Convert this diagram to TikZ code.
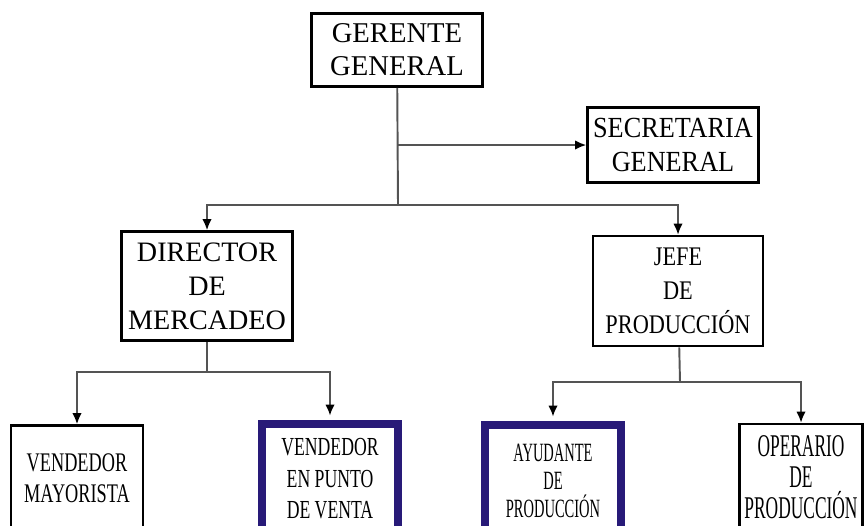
\documentclass[tikz,border=0pt]{standalone}
\usepackage{fontspec}
\setmainfont{Liberation Serif}
\newfontfamily\letraA[FakeStretch=0.9]{Liberation Serif}
\newfontfamily\letraB[FakeStretch=0.83]{Liberation Serif}
\newfontfamily\letraC[FakeStretch=0.68]{Liberation Serif}
\newfontfamily\letraD[FakeStretch=0.55]{Liberation Serif}
\usetikzlibrary{arrows.meta}

\definecolor{azulborde}{RGB}{40,26,120}
\definecolor{linea}{gray}{0.33}

\tikzset{
	cargo/.style={draw, line width=1.5pt, align=center, inner sep=0pt},
	resaltado/.style={cargo, draw=azulborde, line width=4.8pt},
	enlace/.style={draw=linea, line width=1.1pt},
	flecha/.style={enlace, -{Latex[length=2.2mm,width=1.9mm,color=black]}}
}

\begin{document}
\begin{tikzpicture}[x=0.02cm, y=-0.02cm]

	\useasboundingbox (0,0) rectangle (865,525);

	% primer nivel
	\node[cargo, minimum width=3.42cm, minimum height=1.46cm,
		font=\fontsize{16.3pt}{18.7pt}\selectfont] (gerente) at (397,50) {GERENTE\\GENERAL};
	\node[cargo, minimum width=3.42cm, minimum height=1.5cm,
		font=\letraA\fontsize{16.6pt}{19.3pt}\selectfont] (secretaria) at (673,145) {SECRETARIA\\GENERAL};

	% segundo nivel
	\node[cargo, minimum width=3.42cm, minimum height=2.18cm,
		font=\fontsize{16pt}{19.3pt}\selectfont] (director) at (207,286) {DIRECTOR\\DE\\MERCADEO};
	\node[cargo, minimum width=3.4cm, minimum height=2.2cm,
		font=\letraB\fontsize{15.3pt}{19.3pt}\selectfont] (jefe) at (678,291) {JEFE\\DE\\PRODUCCIÓN};

	% tercer nivel (se sale por abajo)
	\node[cargo, minimum width=2.64cm, minimum height=2.1cm,
		font=\letraC\fontsize{15.3pt}{17.6pt}\selectfont] (mayorista) at (77,478) {VENDEDOR\\MAYORISTA};
	\node[resaltado, minimum width=2.72cm, minimum height=2.2cm,
		font=\letraC\fontsize{14.8pt}{17.9pt}\selectfont] (puntoventa) at (330,479) {VENDEDOR\\EN PUNTO\\DE VENTA};
	\node[resaltado, minimum width=2.72cm, minimum height=2.24cm,
		font=\letraD\fontsize{15pt}{15.9pt}\selectfont] (ayudante) at (553,481) {AYUDANTE\\DE\\PRODUCCIÓN};
	\node[cargo, minimum width=2.46cm, minimum height=2.12cm,
		font=\letraD\fontsize{18pt}{17.6pt}\selectfont] (operario) at (801,477) {OPERARIO\\DE\\PRODUCCIÓN};

	\coordinate (ramaA) at (398,205);
	\coordinate (ramaB) at (207,372);
	\coordinate (ramaC) at (680,382);

	\draw[enlace] (gerente) -- (ramaA);
	\draw[flecha] (gerente.south |- secretaria) -- (secretaria);
	\draw[flecha] (ramaA) -| (director);
	\draw[flecha] (ramaA) -| (jefe);

	\draw[enlace] (director) -- (ramaB);
	\draw[flecha] (ramaB) -| (mayorista);
	\draw[flecha, shorten >=2.4pt] (ramaB) -| (puntoventa);

	\draw[enlace] (jefe) -- (ramaC);
	\draw[flecha, shorten >=2.4pt] (ramaC) -| (ayudante);
	\draw[flecha] (ramaC) -| (operario);

\end{tikzpicture}
\end{document}
